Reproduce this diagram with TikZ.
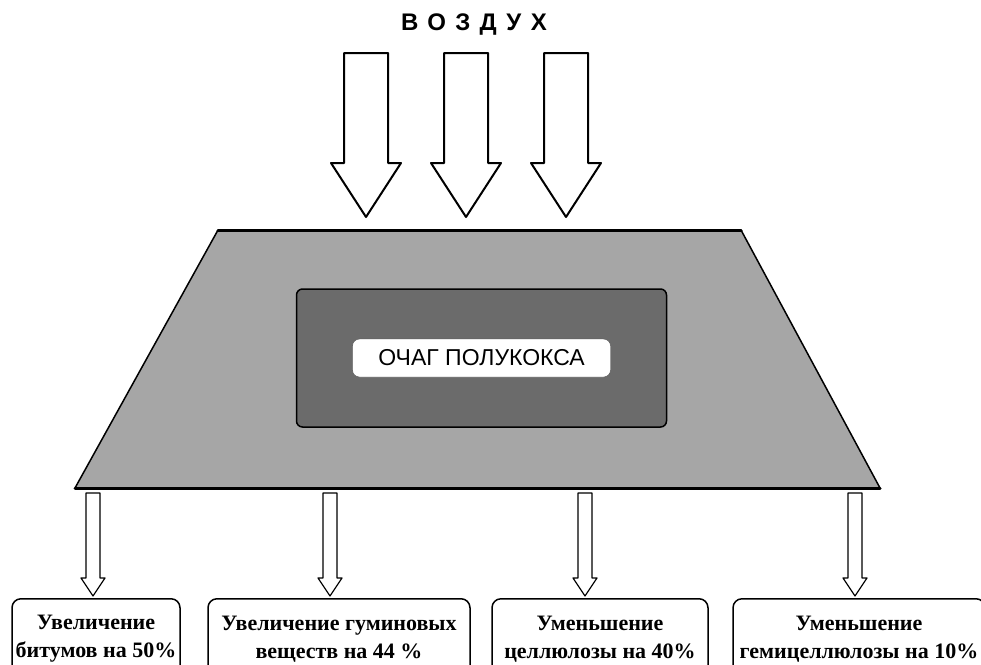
\documentclass[tikz,border=0pt]{standalone}
\usepackage{fontspec}
\setmainfont{Liberation Serif}
\setsansfont{Liberation Sans}
\usetikzlibrary{positioning}
\tikzset{
	ochag/.style={draw,line width=1.5pt,fill=black!58,rounded corners=6pt,minimum width=370pt,minimum height=138pt},
	nhan/.style={draw=black!70,fill=white,rounded corners=7pt,minimum width=258pt,minimum height=38pt,font=\sffamily\fontsize{23}{26}\selectfont},
	hop/.style={draw,line width=1.5pt,rounded corners=9pt,align=center,anchor=north,minimum height=80pt,inner sep=2pt,font=\bfseries\fontsize{22}{28}\selectfont}
}
\begin{document}
\begin{tikzpicture}[x=1pt,y=-1pt,line join=round,line cap=round]
	\useasboundingbox (0,0) rectangle (981,664);
	\clip (0,0) rectangle (981,664);
	\def\sa{22} % nua than mui ten tren
	\def\ha{35} % nua dau mui ten tren
	\def\sb{7} % nua than mui ten duoi
	\def\hb{12} % nua dau mui ten duoi
	\path 
	(218,230) coordinate (A)
	(741,230) coordinate (B)
	(880,488) coordinate (C)
	(75,488) coordinate (D);
	% hinh thang
	\fill[black!35] (A)--(B)--(C)--(D)--cycle;
	\draw[line width=1.5pt] (B)--(C) (D)--(A);
	\draw[line width=3pt] (A)--(B) (D)--(C);
	\node[ochag] (lo) at (481.5,358) {};
	\node[nhan] (oc) at (lo.center) {ОЧАГ ПОЛУКОКСА};
	% vozdukh
	\node[font=\sffamily\bfseries\fontsize{24}{26}\selectfont\addfontfeature{LetterSpace=39}] (air) at (474,25) {ВОЗДУХ};
	\foreach \cx in {366,466,566}
		\draw[line width=2pt,fill=white] (\cx-\sa,53)--(\cx+\sa,53)--(\cx+\sa,163)--(\cx+\ha,163)--(\cx,217)--(\cx-\ha,163)--(\cx-\sa,163)--cycle;
	% cac hop duoi
	\node[hop,minimum width=168pt] (b1) at (96,598) {Увеличение\\битумов на 50\%};
	\node[hop,minimum width=262pt] (b2) at (339,598) {Увеличение гуминовых\\веществ на 44 \%};
	\node[hop,minimum width=216pt] (b3) at (600,598) {Уменьшение\\целлюлозы на 40\%};
	\node[hop,minimum width=252pt] (b4) at (859,598) {Уменьшение\\гемицеллюлозы на 10\%};
	\foreach \cx in {93,330,585,855}
		\draw[line width=1.2pt,fill=white] (\cx-\sb,493)--(\cx+\sb,493)--(\cx+\sb,578)--(\cx+\hb,578)--(\cx,596)--(\cx-\hb,578)--(\cx-\sb,578)--cycle;
\end{tikzpicture}
\end{document}
